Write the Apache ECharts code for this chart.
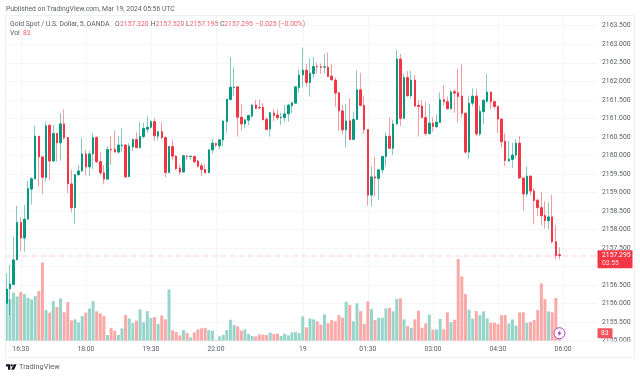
<!DOCTYPE html>
<html>
<head>
<meta charset="utf-8">
<style>
  html, body { margin: 0; padding: 0; background: #fff; }
  #main { width: 640px; height: 377px; }
</style>
<script src="https://cdn.jsdelivr.net/npm/echarts@6/dist/echarts.min.js"></script>
</head>
<body>
<div id="main"></div>
<script>
// 5 minute bars, first one is 16:10 UTC, last one 05:55
var opens = [
  2156.01,2156.40,2156.52,2157.18,2158.19,2157.77,2158.28,2159.09,2159.37,2160.52,
  2159.96,2159.41,2160.81,2159.85,2160.59,2160.34,2160.85,2160.48,2159.23,2158.59,
  2159.48,2159.58,2160.04,2159.69,2160.04,2160.48,2159.83,2159.53,2159.36,2160.16,
  2160.16,2160.09,2160.26,2160.28,2159.43,2160.23,2160.43,2160.21,2160.51,2160.71,
  2160.76,2160.91,2160.52,2160.64,2160.48,2159.54,2160.24,2159.98,2159.66,2159.55,
  2159.98,2159.97,2159.97,2159.85,2159.72,2159.62,2159.53,2160.15,2160.32,2160.26,
  2160.42,2160.91,2161.51,2161.83,2161.85,2161.03,2160.85,2160.95,2161.06,2161.36,
  2161.29,2161.30,2160.97,2160.71,2161.14,2161.09,2161.02,2161.02,2161.12,2161.34,
  2161.41,2161.83,2162.17,2162.30,2161.97,2162.21,2162.40,2162.39,2162.38,2162.38,
  2162.14,2162.03,2161.69,2161.20,2160.69,2160.93,2160.43,2160.97,2161.77,2161.35,
  2160.70,2158.93,2159.42,2159.38,2159.61,2159.97,2160.52,2160.19,2160.85,2162.60,
  2161.00,2162.10,2161.61,2162.03,2161.35,2161.33,2161.02,2160.59,2160.87,2160.77,
  2160.89,2161.50,2161.45,2161.26,2161.72,2161.69,2161.60,2161.14,2160.09,2161.41,
  2161.60,2160.58,2161.18,2161.46,2161.71,2161.45,2161.32,2160.98,2160.38,2159.85,
  2159.89,2160.01,2160.33,2159.39,2158.96,2159.44,2159.04,2158.79,2158.59,2158.38,
  2158.24,2158.34,2157.67,2157.32
];
var closes = [
  2156.39,2156.53,2157.18,2158.19,2157.77,2158.28,2159.11,2159.37,2160.52,2159.96,
  2159.41,2160.80,2159.85,2160.59,2160.34,2160.85,2160.48,2159.23,2158.59,2159.48,
  2159.58,2160.04,2159.69,2160.04,2160.48,2159.83,2159.53,2159.36,2160.16,2160.15,
  2160.09,2160.28,2160.28,2159.42,2160.25,2160.43,2160.21,2160.51,2160.73,2160.76,
  2160.91,2160.53,2160.64,2160.48,2159.54,2160.24,2159.98,2159.64,2159.55,2159.99,
  2159.97,2159.98,2159.83,2159.71,2159.62,2159.53,2160.15,2160.33,2160.28,2160.42,
  2160.93,2161.52,2161.84,2161.84,2161.03,2160.85,2160.96,2161.08,2161.36,2161.27,
  2161.28,2160.96,2160.70,2161.15,2161.08,2161.02,2161.03,2161.12,2161.36,2161.42,
  2161.85,2162.17,2162.30,2161.97,2162.22,2162.40,2162.39,2162.38,2162.39,2162.13,
  2162.04,2161.68,2161.20,2160.69,2160.93,2160.43,2160.97,2161.77,2161.35,2160.70,
  2158.93,2159.42,2159.39,2159.61,2159.97,2160.52,2160.19,2160.85,2162.60,2161.00,
  2162.10,2161.61,2162.03,2161.33,2161.32,2161.02,2160.59,2160.87,2160.78,2160.90,
  2161.50,2161.45,2161.26,2161.71,2161.68,2161.59,2161.14,2160.09,2161.41,2161.60,
  2160.58,2161.19,2161.49,2161.71,2161.45,2161.32,2160.98,2160.37,2159.86,2159.90,
  2160.01,2160.33,2159.39,2158.96,2159.44,2159.04,2158.78,2158.59,2158.37,2158.24,
  2158.34,2157.67,2157.30,2157.295
];
var highs = [
  2156.82,2157.04,2157.81,2158.64,2158.33,2158.66,2159.31,2159.41,2160.80,2160.52,
  2159.96,2160.91,2160.85,2160.82,2160.61,2161.14,2161.24,2160.49,2159.61,2159.50,
  2159.74,2160.46,2160.15,2160.13,2160.60,2160.52,2160.10,2159.74,2160.25,2160.52,
  2160.67,2160.52,2160.73,2160.30,2160.33,2160.46,2160.62,2160.90,2160.88,2161.05,
  2160.96,2161.00,2160.67,2160.89,2160.51,2160.25,2160.43,2160.01,2159.75,2160.01,
  2160.01,2159.98,2159.99,2159.88,2159.79,2159.77,2160.16,2160.46,2160.34,2160.43,
  2160.93,2161.52,2162.65,2162.37,2161.86,2161.38,2160.97,2161.09,2161.38,2161.50,
  2161.50,2161.41,2161.03,2161.17,2161.25,2161.24,2161.15,2161.36,2161.38,2161.43,
  2161.87,2162.32,2162.91,2162.47,2162.62,2162.65,2162.50,2162.48,2162.74,2162.78,
  2162.47,2162.10,2161.72,2161.36,2161.39,2161.54,2161.17,2162.30,2162.23,2161.60,
  2160.71,2159.70,2159.97,2159.62,2159.98,2160.62,2161.03,2160.96,2162.84,2162.74,
  2162.21,2162.28,2162.28,2162.17,2161.48,2161.50,2161.45,2161.39,2161.03,2161.10,
  2161.70,2161.90,2161.59,2161.77,2161.78,2162.33,2162.46,2161.15,2161.60,2161.81,
  2161.78,2161.34,2161.50,2162.20,2161.72,2161.48,2161.34,2161.00,2160.60,2160.39,
  2160.34,2160.43,2160.52,2159.39,2159.70,2159.46,2159.11,2158.82,2159.02,2158.77,
  2158.73,2158.93,2158.11,2157.52
];
var lows = [
  2155.99,2155.69,2156.50,2157.18,2157.42,2157.40,2158.28,2158.68,2159.35,2159.16,
  2158.96,2159.29,2159.34,2159.83,2159.83,2159.86,2160.42,2158.99,2158.46,2158.15,
  2159.45,2159.56,2159.47,2159.44,2159.63,2159.79,2159.47,2159.22,2159.36,2159.74,
  2160.08,2160.04,2160.10,2159.40,2159.41,2160.12,2160.19,2160.19,2160.46,2160.61,
  2160.73,2160.39,2160.40,2160.43,2159.41,2159.53,2159.86,2159.61,2159.47,2159.54,
  2159.88,2159.88,2159.79,2159.67,2159.45,2159.52,2159.53,2160.04,2160.22,2160.17,
  2160.24,2160.61,2161.48,2161.60,2160.51,2160.67,2160.73,2160.82,2161.02,2161.25,
  2161.25,2160.96,2160.69,2160.51,2160.93,2160.96,2160.82,2160.90,2160.91,2161.14,
  2161.39,2161.69,2161.83,2161.87,2161.59,2162.08,2162.20,2162.20,2162.21,2162.11,
  2162.02,2161.32,2160.67,2160.57,2160.21,2160.42,2160.42,2160.96,2161.33,2160.57,
  2158.64,2158.62,2158.89,2158.80,2159.52,2159.70,2160.17,2160.01,2160.82,2160.79,
  2161.00,2161.59,2161.54,2161.32,2160.51,2161.00,2160.53,2160.55,2160.64,2160.76,
  2160.87,2161.34,2161.24,2161.24,2161.15,2160.88,2161.03,2160.04,2159.91,2161.32,
  2160.52,2160.52,2160.85,2161.42,2161.24,2161.27,2160.61,2160.21,2159.71,2159.83,
  2159.67,2159.92,2159.37,2158.51,2158.89,2158.93,2158.14,2158.37,2158.12,2158.03,
  2158.01,2157.63,2157.20,2157.195
];
var volumes = [
  462,462,533,492,540,518,477,459,496,551,870,340,311,440,374,470,315,429,226,237,
  204,274,311,359,440,326,303,274,63,141,111,63,137,285,248,196,222,348,204,329,
  252,263,185,281,237,570,115,96,59,118,85,37,92,126,137,144,118,111,8,48,
  63,118,233,174,159,111,126,74,55,48,70,67,63,89,74,78,52,78,59,92,
  96,85,270,148,248,237,215,178,292,196,229,215,285,255,433,396,215,414,329,185,
  437,352,229,255,255,359,363,326,466,470,237,163,144,237,333,144,192,289,122,126,
  241,126,315,207,233,907,714,518,344,244,329,285,326,248,200,200,185,285,285,192,
  237,167,315,315,200,207,229,340,636,462,326,315,474,83
];
// time axis labels by bar index, bars run on past the last one up to the price scale
var tickLabels = { 4: '16:30', 22: '18:00', 40: '19:30', 58: '22:00', 82: '19', 100: '01:30', 118: '03:00', 136: '04:30', 154: '06:00' };
var barSlots = 164;

var lastPrice = 2157.295;
var lastVol = 83;
var countdown = '03:55';

var UP = '#089981', DOWN = '#F23645';
var GREY = '#5a5d68', PINK = '#f7616c';
var FONT = 'Roboto, "Liberation Sans", Arial, sans-serif';
var FS = 6.8;

var categories = [];
for (var i = 0; i < barSlots; i++) categories.push(String(i));

// wicks and bodies are two series because wicks are paler than the bodies
var wicks = opens.map(function (o, i) { return [o, closes[i], lows[i], highs[i]]; });
var bodies = opens.map(function (o, i) {
  return [o, closes[i], Math.min(o, closes[i]), Math.max(o, closes[i])];
});
var volBars = volumes.map(function (v, i) {
  return { value: v, itemStyle: { color: closes[i] < opens[i] ? '#f9a9a7' : '#97d5cb' } };
});

function txt(x, y, s, color, size) {
  return { type: 'text', x: x, y: y, z: 20, silent: true,
    style: { text: s, fill: color || GREY, font: (size || FS) + 'px ' + FONT, textVerticalAlign: 'middle' } };
}

var myChart = echarts.init(document.getElementById('main'));

var option = {
  animation: false,
  backgroundColor: '#fff',
  grid: { left: 4.5, top: 15.5, width: 592.9, height: 325.2 },
  xAxis: {
    type: 'category',
    data: categories,
    axisLine: { show: false },
    axisTick: { show: false },
    axisLabel: {
      interval: function (idx) { return tickLabels[idx] !== undefined; },
      formatter: function (v, idx) { return tickLabels[idx] || ''; },
      color: GREY, fontSize: FS, fontFamily: FONT, margin: 5
    },
    splitLine: {
      show: true,
      alignWithLabel: true,
      interval: function (idx) { return tickLabels[idx] !== undefined; },
      lineStyle: { color: '#f5f6f8', width: 1 }
    }
  },
  yAxis: [{
    type: 'value',
    position: 'right',
    min: 2155,
    max: 2163.775,
    interval: 0.5,
    axisLine: { show: false },
    axisTick: { show: false },
    axisLabel: {
      showMaxLabel: false,
      formatter: function (v) { return v.toFixed(3); },
      color: GREY, fontSize: FS, fontFamily: FONT, margin: 4.6
    },
    splitLine: { show: true, lineStyle: { color: '#f5f6f8', width: 1 } }
  }, {
    type: 'value',
    min: 0,
    max: 3613,
    show: false
  }],
  series: [{
    name: 'Vol',
    type: 'bar',
    yAxisIndex: 1,
    barWidth: 3,
    z: 1,
    data: volBars
  }, {
    name: 'Wicks',
    type: 'candlestick',
    barWidth: 0,
    z: 2,
    itemStyle: {
      color: 'transparent',
      color0: 'transparent',
      borderColor: 'rgba(8,153,129,0.5)',
      borderColor0: 'rgba(242,54,69,0.5)',
      borderWidth: 1
    },
    data: wicks,
    markLine: {
      silent: true,
      symbol: 'none',
      label: { show: false },
      lineStyle: { color: 'rgba(242,54,69,0.16)', type: 'dashed', width: 1.5 },
      data: [{ yAxis: lastPrice }]
    }
  }, {
    name: 'Gold Spot',
    type: 'candlestick',
    barWidth: 2,
    z: 3,
    itemStyle: {
      color: UP,
      color0: DOWN,
      borderColor: UP,
      borderColor0: DOWN,
      borderWidth: 1
    },
    data: bodies
  }]
};
myChart.setOption(option);

// tags and text that sit on top, tags follow the scales
var priceY = myChart.convertToPixel({ yAxisIndex: 0 }, lastPrice);
var volY = myChart.convertToPixel({ yAxisIndex: 1 }, lastVol);
var nowX = myChart.convertToPixel({ xAxisIndex: 0 }, 153);

var graphics = [
  // price scale is cut where the time scale starts
  { type: 'rect', z: 15, silent: true, shape: { x: 597.5, y: 341.5, width: 36, height: 15 }, style: { fill: '#fff' } },
  { type: 'rect', z: 16, silent: true, shape: { x: 5.5, y: 15.5, width: 629, height: 342 }, style: { fill: 'none', stroke: '#f0f1f3', lineWidth: 1 } },
  txt(6, 9, 'Published on TradingView.com, Mar 19, 2024 05:56 UTC', '#5d606b'),
  txt(10, 24, 'Gold Spot / U.S. Dollar, 5, OANDA'),
  txt(115, 24, 'O'), txt(120, 24, '2157.320', PINK),
  txt(150.7, 24, 'H'), txt(155.7, 24, '2157.520', PINK),
  txt(186, 24, 'L'), txt(189.7, 24, '2157.195', PINK),
  txt(220, 24, 'C'), txt(224.3, 24, '2157.295', PINK),
  txt(255.7, 24, '\u22120.025 (\u22120.00%)', PINK),
  txt(10, 33, 'Vol'), txt(23, 33, '83', PINK),
  // last price tag
  { type: 'rect', z: 18, silent: true, shape: { x: 597.5, y: priceY - 5.5, width: 35, height: 18, r: 1 }, style: { fill: DOWN } },
  txt(602, priceY - 0.5, lastPrice.toFixed(3), '#fff'),
  txt(602, priceY + 7.5, countdown, '#ffd9dc'),
  // last volume tag
  { type: 'rect', z: 18, silent: true, shape: { x: 597.5, y: volY - 5, width: 15, height: 10, r: 1 }, style: { fill: '#f2535f' } },
  txt(601, volY, String(lastVol), '#fff'),
  // lightning badge
  { type: 'circle', z: 18, silent: true, shape: { cx: nowX, cy: volY, r: 5.5 }, style: { fill: '#fff', stroke: '#ab47bc', lineWidth: 1 } },
  { type: 'polygon', z: 19, silent: true, shape: { points: [[nowX + 1.2, volY - 3.4], [nowX - 2.3, volY + 0.7], [nowX - 0.3, volY + 0.7], [nowX - 1.2, volY + 3.4], [nowX + 2.3, volY - 0.7], [nowX + 0.3, volY - 0.7]] }, style: { fill: '#ab47bc' } },
  // TradingView mark
  { type: 'polygon', z: 18, silent: true, shape: { points: [[6, 364.3], [10.3, 364.3], [10.3, 369.8], [8, 369.8], [8, 366.6], [6, 366.6]] }, style: { fill: '#131722' } },
  { type: 'circle', z: 18, silent: true, shape: { cx: 11.7, cy: 365.4, r: 1.1 }, style: { fill: '#131722' } },
  { type: 'polygon', z: 18, silent: true, shape: { points: [[13.8, 364.3], [16.6, 364.3], [14, 369.8], [11.2, 369.8]] }, style: { fill: '#131722' } },
  txt(19, 367, 'TradingView', '#5d606b', 7.4)
];
myChart.setOption({ graphic: { elements: graphics } });

window.addEventListener('resize', function () { myChart.resize(); });
</script>
</body>
</html>
